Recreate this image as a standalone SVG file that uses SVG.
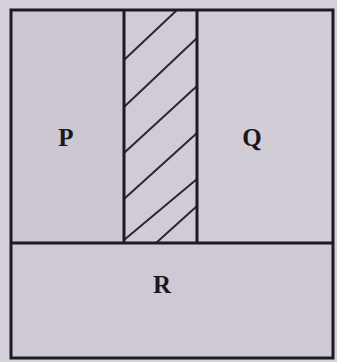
<svg xmlns="http://www.w3.org/2000/svg" width="337" height="362" viewBox="0 0 337 362">
<style>
.bd{fill:none;stroke:#1c1a22;stroke-width:3}
.h{stroke:#2a2830;stroke-width:2;fill:none}
.lbl{font-family:"Liberation Serif",serif;font-weight:bold;font-size:25px;fill:#1a181f;text-anchor:middle}
</style>
<rect x="0" y="0" width="337" height="362" fill="#d6d0db"/>
<g id="P"><rect x="11" y="10" width="113" height="233" fill="#cdc7d2"/><text class="lbl" x="66" y="146">P</text></g>
<g id="hatch"><rect x="124" y="10" width="73" height="233" fill="#d0cbd4"/>
<path class="h" d="M124,60L177,10M124,107L197,38M124,153L197,86M124,199L197,133M124,240L197,179M156,243L197,206"/></g>
<g id="Q"><rect x="197" y="10" width="136" height="233" fill="#d2ccd7"/><text class="lbl" x="252" y="146">Q</text></g>
<g id="R"><rect x="11" y="243" width="322" height="115" fill="#cfc9d4"/><text class="lbl" x="162" y="293">R</text></g>
<g id="lines">
<rect class="bd" x="11" y="10" width="322" height="348"/>
<path class="bd" d="M11,243H333M124,10V243M197,10V243"/>
</g>
</svg>
